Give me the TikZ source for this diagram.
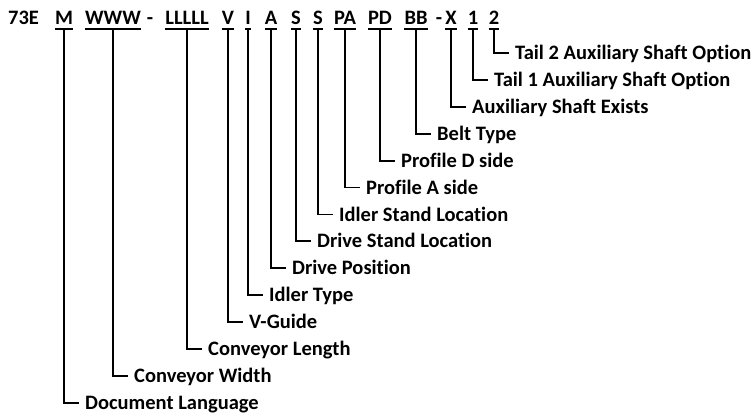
\documentclass[tikz,border=0pt]{standalone}
\usepackage{fontspec}
\setmainfont[Ligatures=NoCommon]{Carlito}
\begin{document}
\begin{tikzpicture}[x=1pt, y=-1pt,
  code/.style={font=\bfseries\fontsize{20.5}{25}\selectfont, anchor=base,
    inner xsep=0pt, inner ysep=4.5pt, text height=13.2pt, text depth=0pt},
  lbl/.style={font=\bfseries\fontsize{20.5}{25}\selectfont, anchor=west,
    inner xsep=6pt, inner ysep=0pt, text height=13.2pt, text depth=0pt},
  tie/.style={line width=1.8pt}]
\useasboundingbox (0,0) rectangle (755,420);

% part-number string
\node[code, anchor=base west] (prefix) at (8,24.5) {73E};
\node[code] (dash1) at (150,24.5) {-};
\node[code] (dash2) at (439,24.5) {-};

% field / position of its tick / description / row
\foreach \n/\t/\x/\d/\k in {
    m/M/64/Document Language/13,
    w/WWW/113/Conveyor Width/12,
    l/LLLLL/187/Conveyor Length/11,
    v/V/228/V-Guide/10,
    i/I/248/Idler Type/9,
    a/A/271/Drive Position/8,
    s/S/296/Drive Stand Location/7,
    t/S/318/Idler Stand Location/6,
    pa/PA/345/Profile A side/5,
    pd/PD/380/Profile D side/4,
    bb/BB/416/Belt Type/3,
    x/X/451/Auxiliary Shaft Exists/2,
    o/1/473/Tail 1 Auxiliary Shaft Option/1,
    p/2/494/Tail 2 Auxiliary Shaft Option/0} {
  \node[code] (\n) at (\x,24.5) {\t};
  \node[lbl] (d\n) at (\x+15, 53+26.9*\k) {\d};
  \draw[tie] (\n.south west) -- (\n.south east);
  \draw[tie] (\n.south) |- (d\n.west);
}
\end{tikzpicture}
\end{document}
